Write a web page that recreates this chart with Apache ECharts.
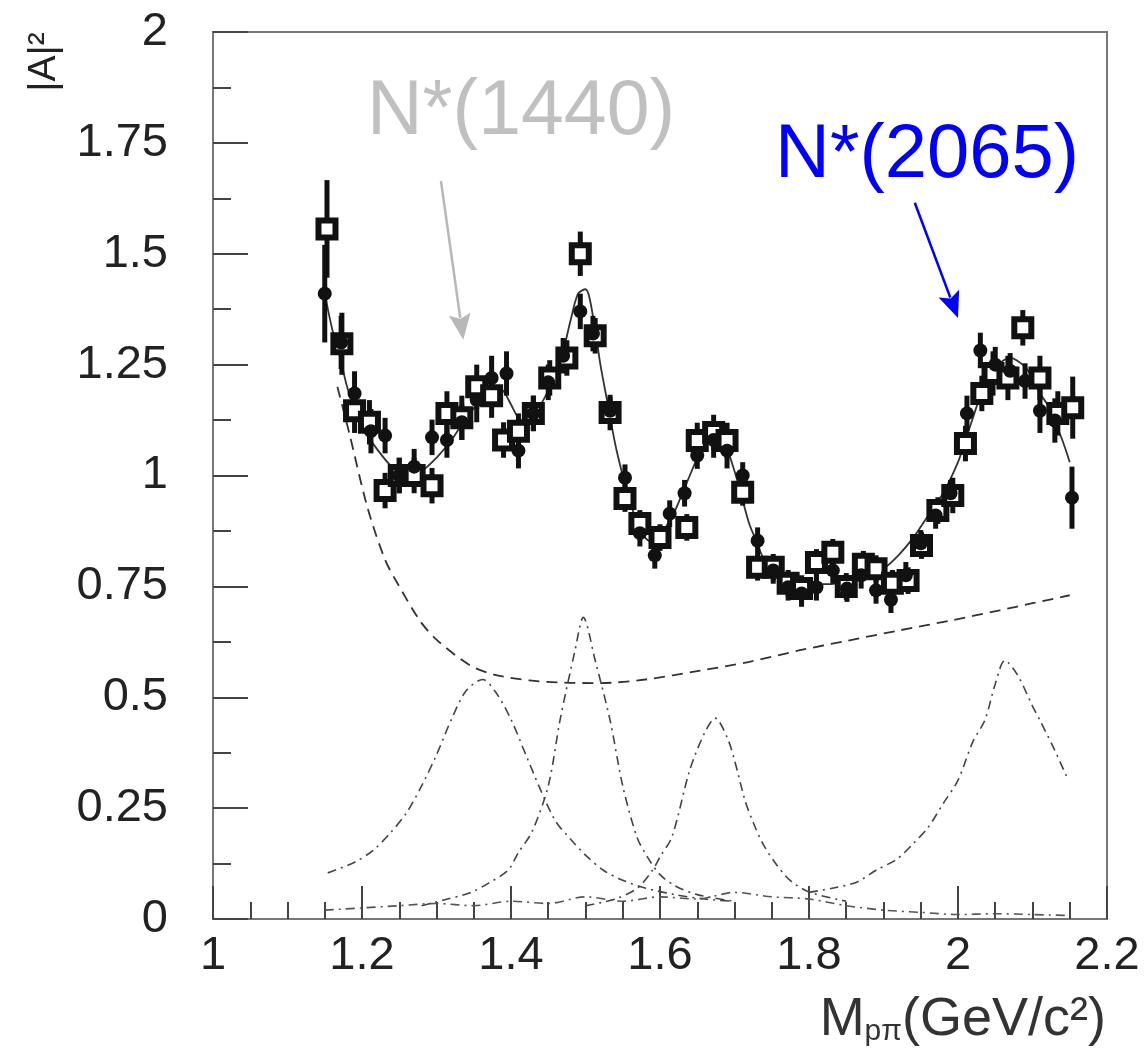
<!DOCTYPE html>
<html>
<head>
<meta charset="utf-8">
<script src="https://cdn.jsdelivr.net/npm/echarts@6/dist/echarts.min.js"></script>
<style>
html,body{margin:0;padding:0;background:#fff;}
#chart{width:1148px;height:1049px;}
</style>
</head>
<body>
<div id="chart"></div>
<script>
// ---- Data ----
// open squares: x, y, error
const sqX = [1.153,1.173,1.19,1.21,1.231,1.25,1.27,1.294,1.314,1.334,1.354,1.374,1.39,1.41,1.43,1.452,1.475,1.493,1.513,1.533,1.553,1.573,1.60,1.636,1.65,1.672,1.69,1.711,1.731,1.752,1.772,1.79,1.81,1.832,1.85,1.873,1.89,1.912,1.933,1.951,1.973,1.993,2.01,2.032,2.047,2.067,2.087,2.11,2.134,2.154];
const sqY = [1.556,1.297,1.146,1.12,0.966,1.00,1.00,0.977,1.14,1.13,1.20,1.18,1.08,1.10,1.14,1.22,1.265,1.50,1.315,1.142,0.948,0.892,0.86,0.883,1.079,1.097,1.079,0.962,0.793,0.793,0.757,0.745,0.804,0.827,0.75,0.80,0.79,0.757,0.763,0.842,0.921,0.955,1.072,1.185,1.23,1.22,1.333,1.22,1.14,1.153];
const sqE = [0.11,0.07,0.05,0.05,0.04,0.04,0.04,0.04,0.05,0.05,0.05,0.05,0.04,0.04,0.04,0.04,0.04,0.05,0.04,0.04,0.03,0.03,0.03,0.03,0.04,0.04,0.04,0.03,0.03,0.03,0.03,0.03,0.03,0.03,0.03,0.03,0.03,0.03,0.03,0.03,0.03,0.04,0.04,0.04,0.05,0.05,0.04,0.05,0.05,0.07];
// filled circles: x, y, error
const ciX = [1.15,1.172,1.19,1.212,1.231,1.25,1.27,1.294,1.314,1.334,1.354,1.374,1.394,1.41,1.43,1.45,1.47,1.493,1.51,1.533,1.553,1.573,1.593,1.613,1.633,1.65,1.672,1.69,1.711,1.731,1.752,1.772,1.79,1.81,1.832,1.851,1.87,1.89,1.91,1.93,1.95,1.97,1.99,2.012,2.03,2.05,2.07,2.09,2.11,2.13,2.153];
const ciY = [1.41,1.30,1.185,1.10,1.09,1.00,1.02,1.086,1.08,1.12,1.17,1.22,1.23,1.056,1.14,1.21,1.27,1.37,1.32,1.146,0.995,0.87,0.82,0.914,0.96,1.045,1.08,1.056,1.00,0.853,0.786,0.748,0.734,0.748,0.786,0.745,0.775,0.741,0.72,0.775,0.847,0.91,0.96,1.14,1.282,1.25,1.236,1.213,1.146,1.124,0.95];
const ciE = [0.11,0.06,0.05,0.05,0.04,0.04,0.04,0.04,0.04,0.04,0.05,0.05,0.05,0.04,0.04,0.04,0.04,0.04,0.04,0.03,0.03,0.03,0.03,0.03,0.03,0.03,0.04,0.04,0.03,0.03,0.03,0.03,0.03,0.03,0.03,0.03,0.03,0.03,0.03,0.03,0.03,0.03,0.03,0.04,0.04,0.04,0.04,0.04,0.05,0.05,0.07];
// full fit (solid)
const fitX = [1.15,1.16,1.17,1.18,1.19,1.20,1.22,1.24,1.26,1.28,1.30,1.32,1.34,1.36,1.38,1.39,1.40,1.41,1.42,1.44,1.46,1.47,1.48,1.49,1.50,1.51,1.52,1.53,1.54,1.55,1.56,1.57,1.58,1.59,1.60,1.61,1.62,1.63,1.64,1.65,1.66,1.67,1.68,1.69,1.70,1.71,1.72,1.73,1.74,1.76,1.78,1.80,1.82,1.84,1.86,1.88,1.90,1.92,1.94,1.96,1.98,2.00,2.01,2.02,2.03,2.04,2.05,2.07,2.09,2.10,2.11,2.12,2.13,2.14,2.15];
const fitY = [1.41,1.33,1.27,1.20,1.15,1.11,1.06,1.02,1.00,1.01,1.04,1.08,1.13,1.17,1.20,1.19,1.16,1.13,1.12,1.16,1.23,1.28,1.35,1.41,1.42,1.36,1.25,1.16,1.07,1.00,0.94,0.89,0.86,0.85,0.86,0.89,0.92,0.96,1.00,1.04,1.08,1.10,1.09,1.06,1.01,0.95,0.89,0.85,0.81,0.78,0.765,0.757,0.755,0.757,0.762,0.775,0.79,0.82,0.86,0.91,0.96,1.03,1.08,1.13,1.18,1.22,1.245,1.265,1.245,1.22,1.185,1.16,1.12,1.08,1.03];
// background (dashed)
const bgX = [1.167,1.183,1.207,1.231,1.25,1.278,1.30,1.345,1.38,1.425,1.47,1.52,1.58,1.654,1.72,1.788,1.85,1.922,1.99,2.056,2.10,2.15];
const bgY = [1.20,1.095,0.93,0.81,0.75,0.672,0.63,0.572,0.55,0.538,0.533,0.532,0.54,0.56,0.58,0.606,0.627,0.651,0.673,0.696,0.712,0.73];
// resonance contributions (dash-dot)
const rAX = [1.154,1.19,1.215,1.238,1.26,1.28,1.30,1.32,1.34,1.362,1.38,1.40,1.42,1.44,1.46,1.48,1.50,1.524,1.549,1.58,1.62,1.66,1.70];
const rAY = [0.104,0.128,0.155,0.194,0.24,0.30,0.37,0.45,0.515,0.54,0.51,0.45,0.37,0.29,0.22,0.18,0.144,0.11,0.088,0.07,0.055,0.045,0.04];
const rBX = [1.28,1.31,1.345,1.37,1.396,1.41,1.428,1.45,1.466,1.486,1.497,1.513,1.533,1.55,1.569,1.583,1.60,1.62,1.65,1.70];
const rBY = [0.03,0.043,0.059,0.081,0.11,0.15,0.196,0.30,0.45,0.606,0.68,0.583,0.448,0.30,0.185,0.14,0.10,0.075,0.055,0.04];
const rCX = [1.50,1.54,1.57,1.59,1.60,1.616,1.64,1.66,1.674,1.69,1.70,1.714,1.725,1.738,1.754,1.774,1.80,1.85];
const rCY = [0.03,0.045,0.07,0.11,0.14,0.185,0.336,0.42,0.453,0.41,0.358,0.268,0.218,0.17,0.128,0.088,0.061,0.04];
const rDX = [1.80,1.833,1.864,1.89,1.918,1.94,1.96,1.98,2.00,2.02,2.036,2.05,2.063,2.08,2.10,2.11,2.13,2.148];
const rDY = [0.06,0.07,0.083,0.11,0.135,0.17,0.207,0.26,0.313,0.40,0.448,0.53,0.583,0.55,0.48,0.448,0.38,0.313];
// small interference terms near zero
const lowX = [1.15,1.20,1.25,1.30,1.35,1.40,1.45,1.50,1.55,1.60,1.65,1.70,1.75,1.80,1.85,1.90,1.95,2.00,2.05,2.10,2.15];
const lowY = [0.02,0.025,0.03,0.035,0.03,0.04,0.035,0.05,0.04,0.05,0.045,0.06,0.05,0.045,0.03,0.02,0.015,0.01,0.012,0.01,0.008];
// annotation arrows: [x start, y start, x tip, y tip]
const arrow1440 = [1.306, 1.664, 1.336, 1.306];
const arrow2065 = [1.942, 1.615, 2.0, 1.355];
const xTicks = {min:1, max:2.2, step:0.2};
const yTicks = {min:0, max:2, step:0.25};

const zip = (xs, ys) => xs.map((x, i) => [x, ys[i]]);
const errData = (xs, ys, es) => xs.map((x, i) => [x, ys[i] - es[i], ys[i] + es[i]]);

const FONT = '"Liberation Sans", Arial, Helvetica, sans-serif';
const chart = echarts.init(document.getElementById('chart'));

function errRender(params, api) {
  const p1 = api.coord([api.value(0), api.value(1)]);
  const p2 = api.coord([api.value(0), api.value(2)]);
  return {type: 'line', shape: {x1: p1[0], y1: p1[1], x2: p2[0], y2: p2[1]},
          style: {stroke: '#111', lineWidth: 5}};
}
function arrowRender(color) {
  return function (params, api) {
    const a = api.coord([api.value(0), api.value(1)]);
    const b = api.coord([api.value(2), api.value(3)]);
    const dx = b[0] - a[0], dy = b[1] - a[1];
    const L = Math.sqrt(dx * dx + dy * dy);
    const ux = dx / L, uy = dy / L, nx = -uy, ny = ux;
    const hl = 26, hw = 11;
    const base = [b[0] - ux * hl, b[1] - uy * hl];
    return {type: 'group', children: [
      {type: 'line', shape: {x1: a[0], y1: a[1], x2: base[0] + ux * 4, y2: base[1] + uy * 4},
       style: {stroke: color, lineWidth: 2.5}},
      {type: 'polygon', shape: {points: [b, [base[0] + nx * hw, base[1] + ny * hw], [base[0] + ux * 5, base[1] + uy * 5], [base[0] - nx * hw, base[1] - ny * hw]]},
       style: {fill: color}}
    ]};
  };
}
const dashDot = [9, 5, 2, 5];
function curve(xs, ys, type, width, color) {
  return {type: 'line', data: zip(xs, ys), showSymbol: false, smooth: 0.3, silent: true,
          lineStyle: {type: type, width: width, color: color}, z: 2};
}

const option = {
  animation: false,
  backgroundColor: '#fff',
  grid: {left: 213, right: 41, top: 32, bottom: 130, show: true, borderColor: '#777', borderWidth: 2},
  xAxis: {
    type: 'value', min: xTicks.min, max: xTicks.max, interval: xTicks.step,
    axisLine: {show: true, lineStyle: {color: '#777', width: 2}},
    axisTick: {show: true, inside: true, length: 33, lineStyle: {color: '#444', width: 2}},
    minorTick: {show: true, splitNumber: 4, length: 17, lineStyle: {color: '#444', width: 2}},
    splitLine: {show: false},
    axisLabel: {fontFamily: FONT, fontSize: 47, color: '#222', margin: 14, showMinLabel: true, showMaxLabel: true}
  },
  yAxis: {
    type: 'value', min: yTicks.min, max: yTicks.max, interval: yTicks.step,
    axisLine: {show: true, lineStyle: {color: '#777', width: 2}},
    axisTick: {show: true, inside: true, length: 35, lineStyle: {color: '#444', width: 2}},
    minorTick: {show: true, splitNumber: 2, length: 18, lineStyle: {color: '#444', width: 2}},
    splitLine: {show: false},
    axisLabel: {fontFamily: FONT, fontSize: 47, color: '#222', margin: 45, showMinLabel: true, showMaxLabel: true}
  },
  series: [
    curve(bgX, bgY, [11, 7], 1.8, '#333'),
    curve(rAX, rAY, dashDot, 1.6, '#444'),
    curve(rBX, rBY, dashDot, 1.6, '#444'),
    curve(rCX, rCY, dashDot, 1.6, '#444'),
    curve(rDX, rDY, dashDot, 1.6, '#444'),
    curve(lowX, lowY, dashDot, 1.6, '#555'),
    Object.assign(curve(fitX, fitY, 'solid', 1.8, '#333'), {z: 3}),
    {type: 'custom', renderItem: errRender, data: errData(sqX, sqY, sqE), encode: {x: 0, y: [1, 2]}, z: 4, silent: true},
    {type: 'custom', renderItem: errRender, data: errData(ciX, ciY, ciE), encode: {x: 0, y: [1, 2]}, z: 4, silent: true},
    {type: 'scatter', data: zip(sqX, sqY), symbol: 'rect', symbolSize: 17, z: 5, silent: true,
     itemStyle: {color: '#fff', borderColor: '#111', borderWidth: 6, opacity: 1}},
    {type: 'scatter', data: zip(ciX, ciY), symbol: 'circle', symbolSize: 14, z: 6, silent: true,
     itemStyle: {color: '#111', opacity: 1}},
    {type: 'custom', renderItem: arrowRender('#b8b8b8'), data: [arrow1440], encode: {x: [0, 2], y: [1, 3]}, z: 7, silent: true},
    {type: 'custom', renderItem: arrowRender('#0000ff'), data: [arrow2065], encode: {x: [0, 2], y: [1, 3]}, z: 7, silent: true}
  ],
  graphic: [
    {type: 'text', x: 367, y: 113, style: {text: 'N*(1440)', fill: '#c0c0c0', font: '77px ' + FONT, verticalAlign: 'middle'}},
    {type: 'text', x: 775, y: 156, style: {text: 'N*(2065)', fill: '#0000ff', font: '76px ' + FONT, verticalAlign: 'middle'}},
    {type: 'text', x: 44, y: 62, rotation: Math.PI / 2,
     style: {text: '|A|²', fill: '#222', font: '39px ' + FONT, align: 'center', verticalAlign: 'middle'}},
    {type: 'text', x: 1106, y: 1020,
     style: {text: 'M{sub|pπ}(GeV/c²)', fill: '#333', font: '54px ' + FONT, align: 'right', verticalAlign: 'middle',
             rich: {sub: {font: '30px ' + FONT, fill: '#333', padding: [24, 0, 0, 0]}}}}
  ]
};
chart.setOption(option);
</script>
</body>
</html>
